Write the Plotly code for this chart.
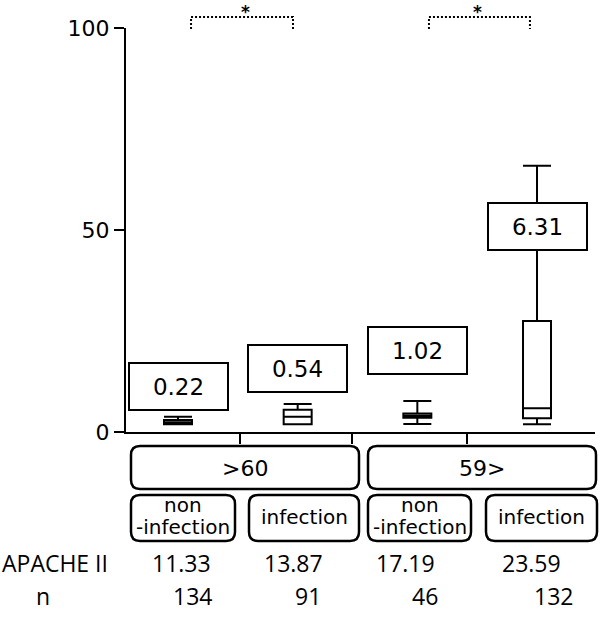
import plotly.graph_objects as go

# ---------------- data ----------------
positions = [0, 1, 2, 3]
q1 = [1.9, 1.9, 3.5, 3.4]
median = [2.4, 3.8, 4.0, 5.9]
q3 = [3.0, 5.5, 4.6, 27.5]
lowerfence = [1.9, 1.9, 2.0, 1.9]
upperfence = [3.8, 6.9, 7.7, 65.9]

label_values = ["0.22", "0.54", "1.02", "6.31"]
groups = [">60", "59>"]
subgroups = [["non", "-infection"], ["infection"], ["non", "-infection"], ["infection"]]
apache_values = ["11.33", "13.87", "17.19", "23.59"]
n_values = ["134", "91", "46", "132"]
y_ticks = [0, 50, 100]
y_tick_labels = ["0", "50", "100"]

# ---------------- layout constants ----------------
WID, HEI = 616, 620
L, T, R, B = 126, 28, 21, 188
W = WID - L - R
H = HEI - T - B
label_y = [11.3, 15.7, 20.2, 50.9]
x_sep_ticks = [0.518, 1.454, 2.415]
FONT_MAIN = "DejaVu Sans"
FONT_TAB = "Open Sans"


def px_x(p):
    return (p - L) / W


def px_y(p):
    return (T + H - p) / H


def rrect(x0, y0, x1, y1, r=9):
    X0, X1 = px_x(x0), px_x(x1)
    Yt, Yb = px_y(y0), px_y(y1)
    rx, ry = r / W, r / H
    return (f"M {X0+rx},{Yt} L {X1-rx},{Yt} Q {X1},{Yt} {X1},{Yt-ry} "
            f"L {X1},{Yb+ry} Q {X1},{Yb} {X1-rx},{Yb} L {X0+rx},{Yb} "
            f"Q {X0},{Yb} {X0},{Yb+ry} L {X0},{Yt-ry} Q {X0},{Yt} {X0+rx},{Yt} Z")


fig = go.Figure()
fig.add_trace(go.Box(
    x=positions, q1=q1, median=median, q3=q3,
    lowerfence=lowerfence, upperfence=upperfence,
    width=0.234, whiskerwidth=1, boxpoints=False,
    line=dict(color="black", width=2), fillcolor="white",
    showlegend=False, hoverinfo="skip",
))

annotations = []
# value label boxes
for x, y, t in zip(positions, label_y, label_values):
    annotations.append(dict(
        x=x, y=y, xref="x", yref="y", text=t, showarrow=False,
        font=dict(family=FONT_MAIN, size=23, color="black"),
        bgcolor="white", bordercolor="black", borderwidth=2, borderpad=0,
        width=97, height=45, xanchor="center", yanchor="middle",
    ))

shapes = []
# group boxes
group_px = [(131, 359), (368, 596)]
for (a, b), g in zip(group_px, groups):
    shapes.append(dict(type="path", xref="paper", yref="paper", path=rrect(a, 446, b, 489),
                       line=dict(color="black", width=2.5)))
    annotations.append(dict(x=px_x((a + b) / 2), y=px_y(468), xref="paper", yref="paper",
                            text=g, showarrow=False, xanchor="center", yanchor="middle",
                            font=dict(family=FONT_MAIN, size=22, color="black")))

sub_px = [(131, 235), (249, 359), (368, 471), (486, 597)]
for (a, b), s in zip(sub_px, subgroups):
    shapes.append(dict(type="path", xref="paper", yref="paper", path=rrect(a, 495, b, 541),
                       line=dict(color="black", width=2.5)))
    cx = px_x((a + b) / 2)
    if len(s) == 2:
        annotations.append(dict(x=cx, y=px_y(505), xref="paper", yref="paper", text=s[0],
                                showarrow=False, xanchor="center", yanchor="middle",
                                font=dict(family=FONT_MAIN, size=20, color="black")))
        annotations.append(dict(x=cx, y=px_y(527), xref="paper", yref="paper", text=s[1],
                                showarrow=False, xanchor="center", yanchor="middle",
                                font=dict(family=FONT_MAIN, size=20, color="black")))
    else:
        annotations.append(dict(x=cx, y=px_y(517), xref="paper", yref="paper", text=s[0],
                                showarrow=False, xanchor="center", yanchor="middle",
                                font=dict(family=FONT_MAIN, size=20, color="black")))

# table rows
annotations.append(dict(x=px_x(0), y=px_y(563), xref="paper", yref="paper", text="APACHE II",
                        showarrow=False, xanchor="left", yanchor="middle",
                        font=dict(family=FONT_TAB, size=23, color="black")))
annotations.append(dict(x=px_x(43), y=px_y(596), xref="paper", yref="paper", text="n",
                        showarrow=False, xanchor="center", yanchor="middle",
                        font=dict(family=FONT_TAB, size=23, color="black")))
apache_cx = [181, 293, 405, 531]
n_cx = [192, 308, 425, 553]
for cx, t in zip(apache_cx, apache_values):
    annotations.append(dict(x=px_x(cx), y=px_y(563), xref="paper", yref="paper", text=t,
                            showarrow=False, xanchor="center", yanchor="middle",
                            font=dict(family=FONT_TAB, size=23, color="black")))
for cx, t in zip(n_cx, n_values):
    annotations.append(dict(x=px_x(cx), y=px_y(596), xref="paper", yref="paper", text=t,
                            showarrow=False, xanchor="center", yanchor="middle",
                            font=dict(family=FONT_TAB, size=23, color="black")))

# significance brackets
brackets = [(0.109, 0.961, 0.56), (2.097, 2.941, 2.5)]
for x0, x1, xs in brackets:
    shapes.append(dict(type="path", xref="x", yref="paper",
                       path=f"M {x0},{px_y(29)} L {x0},{px_y(17)} L {x1},{px_y(17)} L {x1},{px_y(29)}",
                       line=dict(color="black", width=2, dash="2px,2px")))
    annotations.append(dict(x=xs, y=px_y(0), xref="x", yref="paper", text="<b>*</b>",
                            showarrow=False, xanchor="center", yanchor="top",
                            font=dict(family=FONT_MAIN, size=17, color="black")))

fig.update_layout(
    width=WID, height=HEI,
    margin=dict(l=L, r=R, t=T, b=B),
    paper_bgcolor="white", plot_bgcolor="white",
    showlegend=False,
    xaxis=dict(range=[-0.4345, 3.4846], showline=True, linewidth=2, linecolor="black",
               tickvals=x_sep_ticks, ticktext=["", "", ""], ticks="outside", ticklen=10,
               tickwidth=2, tickcolor="black", showgrid=False, zeroline=False, fixedrange=True),
    yaxis=dict(range=[0, 100], showline=True, linewidth=2, linecolor="black",
               tickvals=y_ticks, ticktext=y_tick_labels, ticks="outside", ticklen=10,
               tickwidth=2, tickcolor="black", showgrid=False, zeroline=False,
               tickfont=dict(family=FONT_MAIN, size=22, color="black"), fixedrange=True),
    shapes=shapes,
    annotations=annotations,
)

fig.write_html("out.html", config={"displayModeBar": False},
               post_script="document.body.style.margin='0';")
